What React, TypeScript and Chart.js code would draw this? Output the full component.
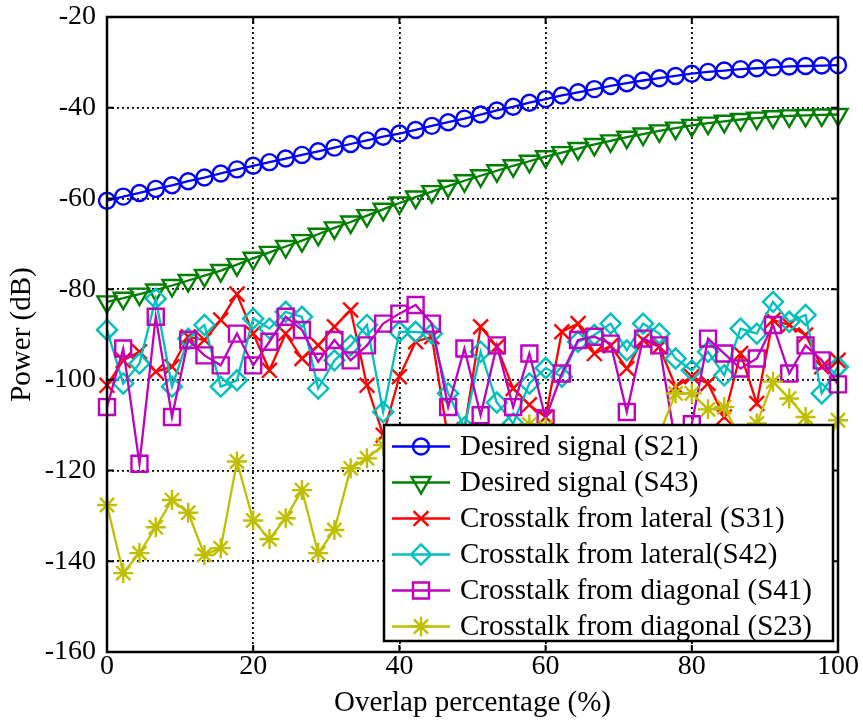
import React, { useEffect, useRef } from 'react';
import { Chart, registerables } from 'chart.js';
import * as helpers from 'chart.js/helpers';

Chart.register(...registerables);

// Overlap percentage (%)
const overlap = [
  0, 2.22, 4.44, 6.67, 8.89, 11.11, 13.33, 15.56, 17.78, 20,
  22.22, 24.44, 26.67, 28.89, 31.11, 33.33, 35.56, 37.78, 40, 42.22,
  44.44, 46.67, 48.89, 51.11, 53.33, 55.56, 57.78, 60, 62.22, 64.44,
  66.67, 68.89, 71.11, 73.33, 75.56, 77.78, 80, 82.22, 84.44, 86.67,
  88.89, 91.11, 93.33, 95.56, 97.78, 100,
];

const s21 = [
  -60.5, -59.6, -58.8, -57.9, -57.1, -56.2, -55.4, -54.5, -53.6, -52.8,
  -52.0, -51.2, -50.4, -49.6, -48.8, -48.0, -47.2, -46.4, -45.7, -44.9,
  -44.0, -43.2, -42.4, -41.5, -40.6, -39.8, -38.9, -38.1, -37.3, -36.6,
  -35.9, -35.2, -34.6, -34.0, -33.5, -33.0, -32.5, -32.1, -31.8, -31.5,
  -31.3, -31.1, -30.9, -30.8, -30.7, -30.6,
];

const s43 = [
  -82.8, -82.0, -81.1, -80.2, -79.2, -78.1, -77.0, -75.9, -74.6, -73.2,
  -71.9, -70.6, -69.3, -67.9, -66.5, -65.2, -63.8, -62.4, -61.0, -59.7,
  -58.5, -57.3, -56.1, -55.0, -53.9, -52.8, -51.8, -50.8, -49.9, -49.0,
  -48.1, -47.3, -46.5, -45.8, -45.1, -44.5, -43.9, -43.4, -43.0, -42.6,
  -42.3, -42.0, -41.8, -41.7, -41.6, -41.5,
];

const s31 = [
  -101.2, -95.7, -93.8, -98.2, -97.1, -90.5, -91.2, -86.8, -81.1, -89.8,
  -97.9, -89.8, -95.3, -92.4, -88.3, -84.6, -101.2, -112.2, -99.3, -91.6,
  -90.5, -113.0, -111.0, -88.3, -92.7, -101.9, -105.5, -108.2, -89.4, -87.6,
  -94.2, -92.5, -97.5, -91.2, -92.7, -101.5, -99.3, -100.8, -108.2, -94.2,
  -105.2, -86.8, -87.9, -90.1, -97.1, -95.7,
];

const s42 = [
  -89.0, -100.8, -96.4, -82.1, -101.5, -90.9, -87.9, -101.5, -100.1, -86.5,
  -88.7, -85.0, -86.1, -101.9, -95.7, -92.4, -87.9, -107.1, -89.4, -89.4,
  -89.8, -103.0, -110.5, -93.8, -105.0, -109.6, -100.8, -97.4, -99.3, -91.6,
  -90.1, -87.6, -93.5, -87.6, -89.8, -95.3, -97.9, -93.8, -99.0, -88.7,
  -89.8, -82.8, -87.2, -85.7, -103.0, -97.1,
];

const s41 = [
  -106.0, -93.1, -118.5, -86.1, -108.2, -91.2, -94.6, -96.8, -89.8, -96.8,
  -91.6, -86.1, -89.0, -96.0, -91.2, -95.7, -92.4, -87.6, -85.4, -83.5,
  -87.6, -106.0, -93.1, -107.8, -92.4, -106.0, -94.2, -108.5, -98.6, -91.2,
  -90.5, -92.0, -107.1, -90.9, -92.4, -114.0, -109.8, -90.9, -94.2, -97.5,
  -95.3, -87.9, -98.6, -92.4, -95.7, -101.0,
];

const s23 = [
  -127.6, -142.6, -138.2, -132.5, -126.5, -129.3, -138.6, -137.1, -118.0, -131.0,
  -135.1, -130.5, -124.3, -138.2, -133.1, -119.5, -117.3, -114.4, -112.0, -115.0,
  -118.0, -114.0, -117.0, -113.0, -116.0, -112.0, -109.8, -110.5, -114.0, -117.0,
  -113.0, -116.0, -119.0, -115.0, -112.0, -103.0, -103.0, -106.5, -106.0, -113.0,
  -109.6, -100.4, -104.1, -108.2, -117.0, -108.9,
];

const seriesLabels = [
  'Desired signal (S21)',
  'Desired signal (S43)',
  'Crosstalk from lateral (S31)',
  'Crosstalk from lateral(S42)',
  'Crosstalk from diagonal (S41)',
  'Crosstalk from diagonal (S23)',
];

const xTicks = [0, 20, 40, 60, 80, 100];
const yTicks = [-160, -140, -120, -100, -80, -60, -40, -20];

const FONT = '"Liberation Serif", "Times New Roman", serif';

const frameAndLegend = {
  id: 'frameAndLegend',
  afterDatasetsDraw(chart: any) {
    const { ctx, chartArea } = chart;
    const { left, right, top, bottom } = chartArea;
    const xs = chart.scales.x;
    const ys = chart.scales.y;
    ctx.save();
    // inner tick marks
    ctx.strokeStyle = '#000';
    ctx.lineWidth = 2;
    const tl = 7;
    ctx.beginPath();
    xTicks.forEach((v) => {
      const px = xs.getPixelForValue(v);
      ctx.moveTo(px, bottom);
      ctx.lineTo(px, bottom - tl);
      ctx.moveTo(px, top);
      ctx.lineTo(px, top + tl);
    });
    yTicks.forEach((v) => {
      const py = ys.getPixelForValue(v);
      ctx.moveTo(left, py);
      ctx.lineTo(left + tl, py);
      ctx.moveTo(right, py);
      ctx.lineTo(right - tl, py);
    });
    ctx.stroke();
    // box
    ctx.lineWidth = 2.5;
    ctx.strokeRect(left, top, right - left, bottom - top);

    // legend
    const w = 449;
    const h = 216;
    const lr = right - 5;
    const lb = bottom - 11;
    const ll = lr - w;
    const lt = lb - h;
    ctx.fillStyle = '#fff';
    ctx.fillRect(ll, lt, w, h);
    ctx.lineWidth = 2.5;
    ctx.strokeStyle = '#000';
    ctx.strokeRect(ll, lt, w, h);
    const rowH = 36;
    chart.data.datasets.forEach((ds: any, i: number) => {
      const y = lt + 21.5 + i * rowH;
      ctx.strokeStyle = ds.borderColor;
      ctx.lineWidth = ds.borderWidth;
      ctx.beginPath();
      ctx.moveTo(ll + 8, y);
      ctx.lineTo(ll + 66, y);
      ctx.stroke();
      ctx.fillStyle = 'rgba(0,0,0,0)';
      ctx.strokeStyle = ds.pointBorderColor;
      ctx.lineWidth = ds.pointBorderWidth;
      helpers.drawPoint(
        ctx,
        {
          pointStyle: ds.pointStyle,
          rotation: ds.pointRotation || 0,
          radius: ds.pointRadius,
          borderWidth: ds.pointBorderWidth,
        },
        ll + 37,
        y
      );
      ctx.fillStyle = '#000';
      ctx.font = `29px ${FONT}`;
      ctx.textBaseline = 'middle';
      ctx.textAlign = 'left';
      ctx.fillText(ds.label, ll + 76, y + 1);
    });
    ctx.restore();
  },
};

function mk(label: string, data: number[], color: string, style: string, radius: number, order: number, rotation = 0) {
  return {
    label,
    data: data.map((v, i) => ({ x: overlap[i], y: v })),
    borderColor: color,
    backgroundColor: 'rgba(0,0,0,0)',
    borderWidth: 2.3,
    pointStyle: style,
    pointRadius: radius,
    pointRotation: rotation,
    pointBorderColor: color,
    pointBackgroundColor: 'rgba(0,0,0,0)',
    pointBorderWidth: 2.4,
    tension: 0,
    clip: false,
    order,
  };
}

export default function App() {
  const ref = useRef<HTMLCanvasElement>(null);
  useEffect(() => {
    if (!ref.current) return;
    const chart = new Chart(ref.current, {
      type: 'line',
      data: {
        datasets: [
          mk(seriesLabels[0], s21, '#0000FF', 'circle', 8, 6),
          mk(seriesLabels[1], s43, '#007F00', 'triangle', 11, 5, 180),
          mk(seriesLabels[2], s31, '#FF0000', 'crossRot', 10.5, 4),
          mk(seriesLabels[3], s42, '#00BFBF', 'rectRot', 10, 3),
          mk(seriesLabels[4], s41, '#BF00BF', 'rect', 11.3, 2),
          mk(seriesLabels[5], s23, '#BFBF00', 'star', 10, 1),
        ] as any,
      },
      options: {
        animation: false,
        responsive: false,
        devicePixelRatio: 1,
        layout: { padding: { top: 17, right: 25, left: 0, bottom: 0 } },
        plugins: {
          legend: { display: false },
          tooltip: { enabled: false },
        },
        scales: {
          x: {
            type: 'linear',
            min: 0,
            max: 100,
            afterFit: (s: any) => {
              s.height = 74;
              s.paddingLeft = 0;
              s.paddingRight = 0;
            },
            afterBuildTicks: (s: any) => {
              s.ticks = xTicks.map((v) => ({ value: v }));
            },
            ticks: {
              color: '#000',
              padding: 1,
              maxRotation: 0,
              font: { family: FONT, size: 28, lineHeight: 1 },
            },
            grid: { color: '#000', lineWidth: 1.8, drawTicks: false },
            border: { display: false, dash: [2, 3] },
            title: {
              display: true,
              text: 'Overlap percentage (%)',
              color: '#000',
              font: { family: FONT, size: 29 },
              padding: { top: 0, bottom: 5 },
            },
          },
          y: {
            type: 'linear',
            min: -160,
            max: -20,
            afterFit: (s: any) => {
              s.width = 107;
              s.paddingTop = 0;
              s.paddingBottom = 0;
            },
            afterBuildTicks: (s: any) => {
              s.ticks = yTicks.map((v) => ({ value: v }));
            },
            ticks: {
              color: '#000',
              padding: 11,
              font: { family: FONT, size: 28, lineHeight: 1 },
            },
            grid: { color: '#000', lineWidth: 1.8, drawTicks: false },
            border: { display: false, dash: [2, 3] },
            title: {
              display: true,
              text: 'Power (dB)',
              color: '#000',
              font: { family: FONT, size: 29 },
              padding: { top: 5, bottom: 0 },
            },
          },
        },
      },
      plugins: [frameAndLegend],
    } as any);
    return () => chart.destroy();
  }, []);
  return (
    <div style={{ position: 'absolute', left: 0, top: 0, width: 863, height: 726, background: '#fff' }}>
      <canvas ref={ref} width={863} height={726} style={{ display: 'block' }} />
    </div>
  );
}
